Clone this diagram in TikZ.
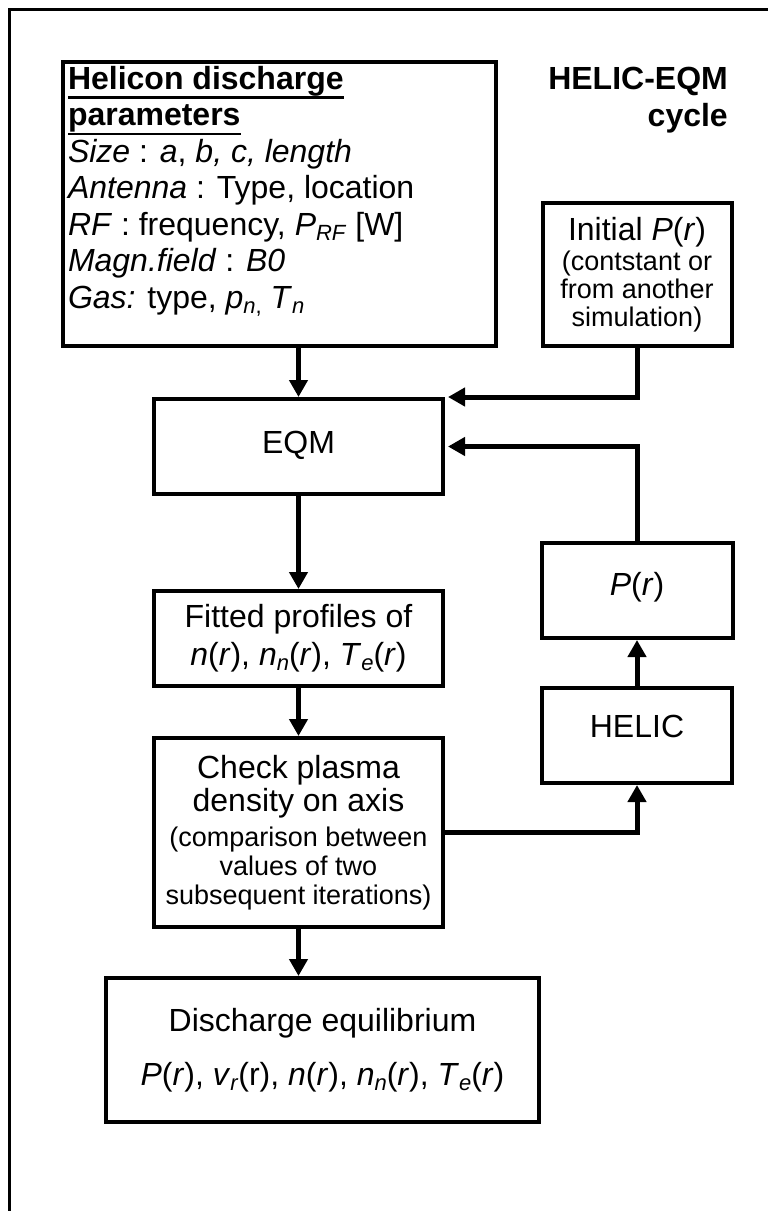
\documentclass[tikz,border=0pt]{standalone}
\usepackage{fontspec}
\setmainfont{Liberation Sans}
\usetikzlibrary{arrows.meta}
\newcommand\myul[1]{\leavevmode\setbox0=\hbox{#1}\rlap{\rule[-9.5pt]{\wd0}{2.5pt}}\box0}
\newcommand\sub[1]{\raisebox{-5pt}{\fontsize{22}{22}\selectfont #1}}
\newcommand\sm[1]{\fontsize{27}{#1}\selectfont}
\tikzset{
  box/.style={draw, line width=4pt, rectangle, inner sep=0pt, align=center},
  arr/.style={line width=5pt, -{Triangle[width=18pt,length=17pt]}},
  frame/.style={line width=3pt}
}
\begin{document}
\begin{tikzpicture}[x=1pt,y=-1pt]
\useasboundingbox (0,0) rectangle (768,1211);
\fill[white] (0,0) rectangle (768,1211);
\draw[frame] (9.5,1220) -- (9.5,9.5) -- (780,9.5);

% title
\node[anchor=north east, inner sep=0pt, align=right, font=\bfseries\fontsize{32}{37}\selectfont] (title) at (728,67) {HELIC-EQM\\cycle};

% parameter box
\node[box, minimum width=433pt, minimum height=284pt] (hb) at (279.5,204) {%
\begin{minipage}[c][276pt][t]{423pt}\fontsize{32}{36.5}\selectfont\raggedright
\myul{\textbf{Helicon discharge}}\par
\myul{\textbf{parameters}}\par
\textit{Size} : \textit{a}, \textit{b, c, length}\par
\textit{Antenna} : Type, location\par
\textit{RF} : frequency, \textit{P}\sub{\textit{RF}} [W]\par
\textit{Magn.field} : \textit{B0}\par
\textit{Gas:} type, \textit{p}\sub{\textit{n},} \textit{T}\sub{\textit{n}}\par
\end{minipage}};

% initial
\node[box, minimum width=189pt, minimum height=143pt, font=\fontsize{32}{28}\selectfont] (init) at (637,274.5)
  {Initial \textit{P}(\textit{r})\\[2pt] \sm{28}(contstant or\\ \sm{28}from another\\ \sm{28}simulation)};

% main column
\node[box, minimum width=289pt, minimum height=95pt, font=\fontsize{32}{38}\selectfont, text depth=8pt] (eqm) at (298.5,446.5) {EQM};
\node[box, minimum width=289pt, minimum height=95pt, font=\fontsize{32}{38}\selectfont] (fit) at (298.5,638.5)
  {Fitted profiles of\\ \textit{n}(\textit{r}), \textit{n}\sub{\textit{n}}(\textit{r}), \textit{T}\sub{\textit{e}}(\textit{r})};
\node[box, minimum width=289pt, minimum height=189pt, font=\fontsize{32}{33}\selectfont] (chk) at (298.5,832.5)
  {Check plasma\\density on axis\\[2pt] \sm{33}(comparison between\\[-4pt] \sm{33}values of two\\[-4pt] \sm{33}subsequent iterations)};
\node[box, minimum width=433pt, minimum height=144pt, font=\fontsize{32}{54}\selectfont] (dis) at (322.5,1050)
  {Discharge equilibrium\\ \textit{P}(\textit{r}), \textit{v}\sub{\textit{r}}(r), \textit{n}(\textit{r}), \textit{n}\sub{\textit{n}}(\textit{r}), \textit{T}\sub{\textit{e}}(\textit{r})};

% right column
\node[box, minimum width=191pt, minimum height=95pt, font=\fontsize{32}{38}\selectfont, text depth=14pt] (pr) at (637,590.5) {\textit{P}(\textit{r})};
\node[box, minimum width=190pt, minimum height=95pt, font=\fontsize{32}{38}\selectfont, text depth=18pt] (helic) at (637,735.5) {HELIC};

% connectors
\draw[arr] (eqm.north |- hb.south) -- (eqm.north);
\draw[arr, shorten >=3pt] (init.south) |- (eqm.north east);
\draw[arr, shorten >=3pt] (pr.north) |- (eqm.east);
\draw[arr] (eqm.south) -- (fit.north);
\draw[arr] (fit.south) -- (chk.north);
\draw[arr] (chk.east) -| (helic.south);
\draw[arr] (helic.north) -- (pr.south);
\draw[arr] (chk.south) -- (chk.south |- dis.north);
\end{tikzpicture}
\end{document}
